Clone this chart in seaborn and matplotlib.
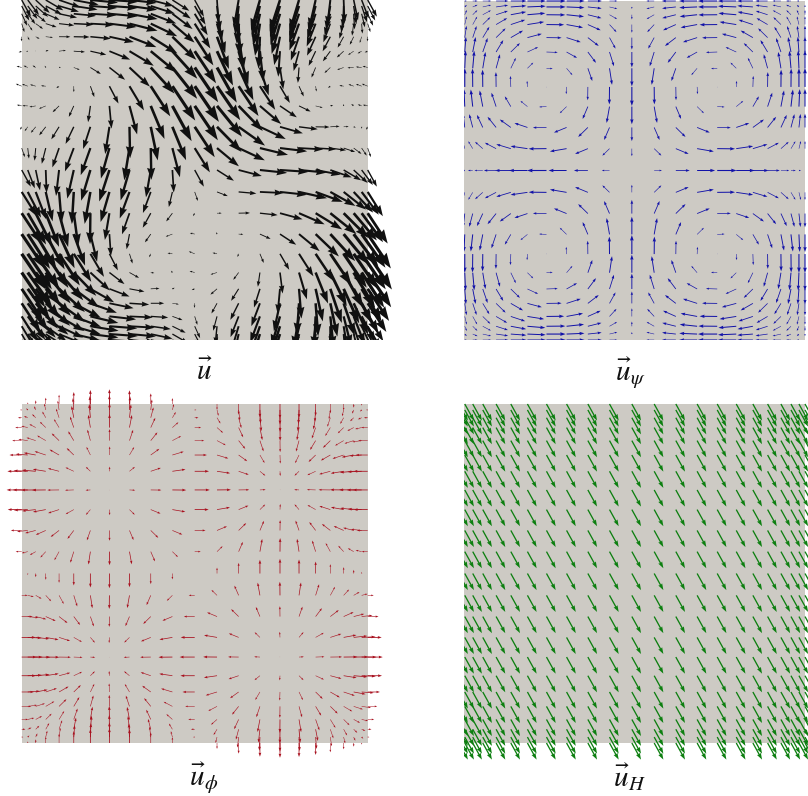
import numpy as np
import matplotlib
matplotlib.use("Agg")
import matplotlib.pyplot as plt
from matplotlib.colors import ListedColormap
import seaborn as sns

# grid stations from the centre of the square to its edge (read from the arrow tails)
stations = [0, .129, .254, .377, .493, .603, .699, .784, .861, .919, .965, 1]

# one quadrant of the cell pattern, in percent of peak arrow length (read from panels 2 and 3)
# rows: centre -> edge vertically, columns: centre -> edge horizontally
cell_pct = [
    [0, 40, 72, 93, 100, 95, 81, 63, 43, 25, 11, 0],
    [0, 37, 66, 86, 92, 87, 75, 58, 40, 23, 10, 0],
    [0, 28, 50, 65, 70, 67, 57, 44, 30, 18, 8, 0],
    [0, 15, 27, 35, 38, 36, 31, 24, 16, 10, 4, 0],
    [0, 1, 1, 2, 2, 2, 2, 1, 1, 1, 0, 0],
    [0, -13, -23, -30, -32, -30, -26, -20, -14, -8, -4, 0],
    [0, -23, -42, -54, -58, -55, -47, -37, -25, -15, -6, 0],
    [0, -31, -56, -73, -78, -74, -63, -49, -34, -20, -9, 0],
    [0, -36, -66, -85, -91, -86, -74, -57, -39, -23, -10, 0],
    [0, -39, -70, -90, -97, -92, -79, -61, -42, -24, -11, 0],
    [0, -40, -71, -92, -99, -94, -80, -62, -43, -25, -11, 0],
    [0, -40, -72, -93, -100, -95, -81, -63, -43, -25, -11, 0],
]
psi_peak = 0.112      # peak arrow length of u_psi, in half-widths of the square
phi_peak = 0.087      # peak arrow length of u_phi
harmonic = [0.053, -0.098]   # nearly uniform u_H

labels = [r"$\vec{u}$", r"$\vec{u}_{\psi}$", r"$\vec{u}_{\phi}$", r"$\vec{u}_{H}$"]
colors = ["#101010", "#1212a8", "#a8101e", "#0d7f10"]
width_factor = [0.075, 0.055, 0.055, 0.068]
square_color = "#cdcac4"

W, H = 808, 796
sns.set_theme(style="white", rc={"mathtext.fontset": "stix"})
fig = plt.figure(figsize=(W / 100, H / 100), dpi=100, facecolor="white")

idx = np.arange(-11, 12)
s = np.sign(idx) * np.array(stations)[np.abs(idx)]
X, T = np.meshgrid(s, s)
table = np.array(cell_pct) / 100.0
I, J = np.meshgrid(idx, idx)
sc = np.sign(I) * table[np.abs(J), np.abs(I)]
cs = np.sign(J) * table[np.abs(I), np.abs(J)]

# fields: (horizontal, downward)
psi_u, psi_v = psi_peak * sc, -psi_peak * cs
phi_u, phi_v = -phi_peak * cs, -phi_peak * sc
har_u, har_v = np.full_like(sc, harmonic[0]), np.full_like(sc, -harmonic[1])
tot_u, tot_v = psi_u + phi_u + har_u, psi_v + phi_v + har_v

panels = [
    (tot_u, tot_v, (21.7, 0, 367.7, 340), (0, 0, 400, 340), (204.5, 372)),
    (psi_u, psi_v, (458.7, 1, 805, 340), (464, 0, 808, 340), (630, 373)),
    (phi_u, phi_v, (21.7, 404, 367.7, 743), (0, 385, 400, 765), (204, 778)),
    (har_u, har_v, (458.7, 404, 805, 743), (464, 395, 808, 765), (629, 777)),
]

for k, (U, V, dom, view, lab) in enumerate(panels):
    dl, dt, dr, db = dom
    vl, vt, vr, vb = view
    cx, cy = (dl + dr) / 2, (dt + db) / 2
    hx, hy = (dr - dl) / 2, (db - dt) / 2
    # square
    bl, br = max(dl, vl), min(dr, vr)
    bg = fig.add_axes([bl / W, 1 - db / H, (br - bl) / W, (db - dt) / H])
    sns.heatmap(np.zeros((1, 1)), cmap=ListedColormap([square_color]), cbar=False,
                xticklabels=False, yticklabels=False, ax=bg)
    # arrows
    ax = fig.add_axes([vl / W, 1 - vb / H, (vr - vl) / W, (vb - vt) / H])
    ax.patch.set_alpha(0)
    ax.set_xlim((vl - cx) / hx, (vr - cx) / hx)
    ax.set_ylim((cy - vb) / hy, (cy - vt) / hy)
    ax.axis("off")
    mag_px = np.hypot(U, V) * hx
    widths = np.clip(np.round(mag_px * width_factor[k], 1), 0.5, None)
    for w in np.unique(widths):
        m = (widths == w) & (mag_px > 0.3)
        if not m.any():
            continue
        ax.quiver(X[m], -T[m], U[m], -V[m], angles="xy", scale_units="xy", scale=1,
                  units="dots", width=w, color=colors[k], pivot="tail",
                  headwidth=3.4, headlength=5.0, headaxislength=4.6,
                  minshaft=1, minlength=0, linewidth=0)
    fig.text(lab[0] / W, 1 - lab[1] / H, labels[k], ha="center", va="center",
             fontsize=21, color="#111111")

fig.savefig("out.png", dpi=100, facecolor="white")
